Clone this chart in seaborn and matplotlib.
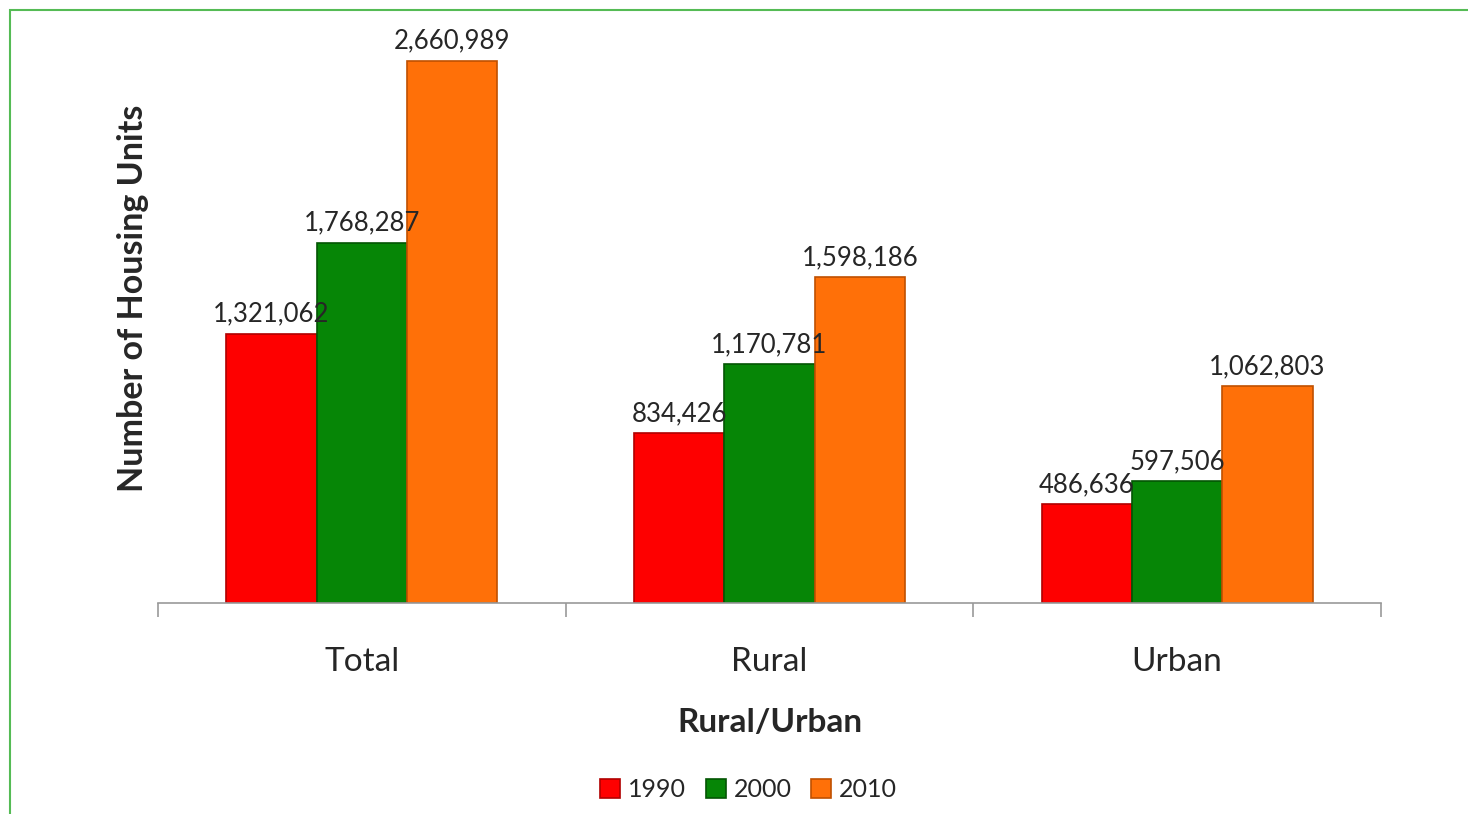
import pandas as pd
import matplotlib.pyplot as plt
import seaborn as sns
from matplotlib.patches import Rectangle

# chart values
areas = ["Total", "Rural", "Urban"]
years = ["1990", "2000", "2010"]
units_1990 = [1321062, 834426, 486636]
units_2000 = [1768287, 1170781, 597506]
units_2010 = [2660989, 1598186, 1062803]

colors = ["#fe0000", "#068606", "#ff7008"]
edges = ["#b00000", "#035503", "#c05000"]

rows = []
for year, vals in zip(years, [units_1990, units_2000, units_2010]):
    for area, v in zip(areas, vals):
        rows.append({"Rural/Urban": area, "Year": year, "Units": v})
df = pd.DataFrame(rows)

sns.set_theme(style="white")
plt.rcParams["font.family"] = ["Lato", "DejaVu Sans"]

fig = plt.figure(figsize=(14.68, 8.14), dpi=100)
ax = fig.add_axes([0.1076, 0.2592, 0.8331, 0.7162])

sns.barplot(data=df, x="Rural/Urban", y="Units", hue="Year", palette=colors,
            width=0.665, saturation=1, ax=ax, legend=False)

for i, cont in enumerate(ax.containers):
    for bar in cont:
        bar.set_edgecolor(edges[i])
        bar.set_linewidth(1.2)
    ax.bar_label(cont, labels=[f"{int(b.get_height()):,}" for b in cont],
                 padding=5, fontsize=18.5)

ax.set_xlim(-0.5, 2.5)
ax.set_ylim(0, 2860000)
ax.set_yticks([])
ax.set_ylabel("Number of Housing Units", fontsize=24.5, fontweight="bold")
ax.yaxis.set_label_coords(-0.007, 0.523)
ax.set_xlabel("Rural/Urban", fontsize=24, fontweight="bold", labelpad=22)
ax.tick_params(axis="x", which="major", length=0, labelsize=24, pad=32)
ax.set_xticks([-0.5, 0.5, 1.5, 2.5], minor=True)
ax.tick_params(axis="x", which="minor", bottom=True, length=10, width=1.2,
               color="#999999", direction="out")
for s in ["top", "right", "left"]:
    ax.spines[s].set_visible(False)
ax.spines["bottom"].set_color("#999999")
ax.spines["bottom"].set_linewidth(1.2)

handles = [Rectangle((0, 0), 1, 1, facecolor=c, edgecolor=e, linewidth=1.2)
           for c, e in zip(colors, edges)]
fig.legend(handles, years, loc="center", bbox_to_anchor=(0.51, 0.0295), ncol=3,
           frameon=False, fontsize=18, handlelength=0.8, handleheight=0.8,
           handletextpad=0.3, columnspacing=0.8)

fig.patches.append(Rectangle((10 / 1468, -0.1), 1.2, 1.1 - 10 / 814,
                             transform=fig.transFigure, fill=False,
                             edgecolor="#55bb55", linewidth=1.5))

fig.savefig("out.png", dpi=100)
